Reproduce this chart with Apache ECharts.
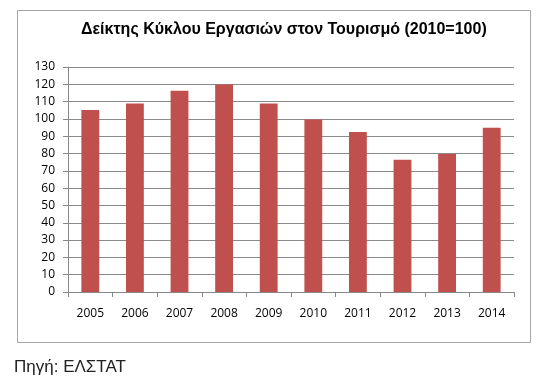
<!DOCTYPE html>
<html><head><meta charset="utf-8">
<script src="https://cdn.jsdelivr.net/npm/echarts@6/dist/echarts.min.js"></script>
<style>html,body{margin:0;padding:0;background:#fff}#c{width:539px;height:379px}</style>
</head><body><div id="c"></div>
<script>
const categories = ['2005','2006','2007','2008','2009','2010','2011','2012','2013','2014'];
const values = [105.2, 108.9, 116.3, 119.9, 108.9, 99.7, 92.5, 76.4, 79.8, 94.9];
const titleText = 'Δείκτης Κύκλου Εργασιών στον Τουρισμό (2010=100)';
const sourceText = 'Πηγή: ΕΛΣΤΑΤ';

const chart = echarts.init(document.getElementById('c'), null, {renderer:'canvas'});
chart.setOption({
  animation: false,
  backgroundColor: '#fff',
  title: {
    text: titleText, left: 81, top: 22, padding: 0,
    textStyle: {fontFamily: 'Liberation Sans, Arial', fontWeight: 'bold', fontSize: 16, color: '#000'}
  },
  graphic: [
    {type: 'rect', shape: {x: 17.5, y: 10.5, width: 513, height: 332}, style: {fill: 'none', stroke: '#a6a6a6', lineWidth: 1}, z: -1},
    {type: 'text', left: 14, top: 359, style: {text: sourceText, font: '17px "Liberation Sans", Arial', fill: '#222'}}
  ],
  grid: {left: 68, right: 25, top: 67, bottom: 87},
  xAxis: {
    type: 'category', data: categories,
    axisLine: {lineStyle: {color: '#888', width: 1}},
    axisTick: {show: true, alignWithLabel: false, length: 5, lineStyle: {color: '#888'}},
    axisLabel: {color: '#000', fontFamily: 'Open Sans', fontSize: 12, margin: 16}
  },
  yAxis: {
    type: 'value', min: 0, max: 130, interval: 10,
    axisLine: {show: true, lineStyle: {color: '#888'}},
    axisTick: {show: true, length: 5, lineStyle: {color: '#888'}},
    splitLine: {lineStyle: {color: '#8a8a8a', width: 1}},
    axisLabel: {color: '#000', fontFamily: 'Open Sans', fontSize: 12, margin: 13}
  },
  series: [{
    type: 'bar', data: values, barWidth: '40%',
    itemStyle: {color: '#C0504D'}
  }]
});
</script></body></html>
